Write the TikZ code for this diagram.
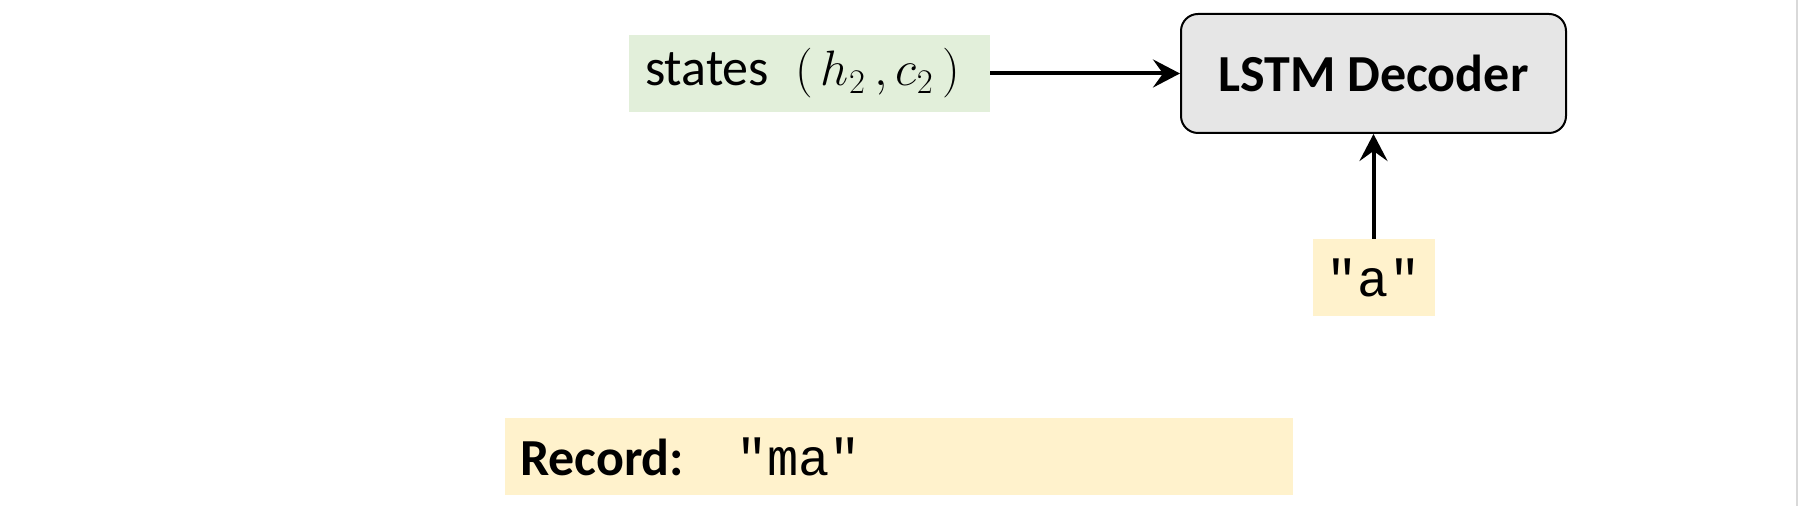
\documentclass[tikz,border=0pt]{standalone}
\usepackage{fontspec}
\setmainfont{Carlito}
\setmonofont{Liberation Mono}
\usetikzlibrary{arrows.meta}
\definecolor{lgreen}{HTML}{E2EFDA}
\definecolor{lyellow}{HTML}{FFF2CC}
\definecolor{lgray}{HTML}{E6E6E6}
\definecolor{edgegray}{HTML}{D9D9D9}
\tikzset{
  x=0.5pt, y=-0.5pt,
  flatbox/.style={draw=none, rectangle, inner ysep=0pt, minimum height=38.5pt, font=\fontsize{26}{30}\selectfont},
  greenbox/.style={flatbox, fill=lgreen},
  yellowbox/.style={flatbox, fill=lyellow},
  decoder/.style={draw=black, line width=1pt, fill=lgray, rounded corners=8.5pt, minimum width=192.5pt, minimum height=59.5pt, font=\fontsize{26}{30}\selectfont\bfseries},
  flow/.style={line width=2pt, -{Stealth[length=13.5pt, width=14pt, inset=5pt]}}
}
\begin{document}
\begin{tikzpicture}
\useasboundingbox[fill=white] (0,0) rectangle (1799,506);
\draw[edgegray, line width=1pt] (1797,0) -- (1797,506);
\node[greenbox, text width=164.5pt, inner xsep=8pt, align=left] (states) at (809.5,73.5) {states\enspace$(\,h_2\,,c_2\,)$};
\node[decoder] (dec) at (1373.5,73.5) {LSTM Decoder};
\node[yellowbox, minimum width=61pt, inner xsep=0pt] (inp) at (1373.5,277.5) {\ttfamily "a"};
\node[yellowbox, text width=379pt, inner xsep=7.5pt, align=left] (rec) at (899,456.5) {\textbf{Record:}\hspace{26pt}{\ttfamily "ma"}};
\draw[flow] (states.east) -- (dec.west);
\draw[flow] (inp.north) -- (dec.south);
\end{tikzpicture}
\end{document}
